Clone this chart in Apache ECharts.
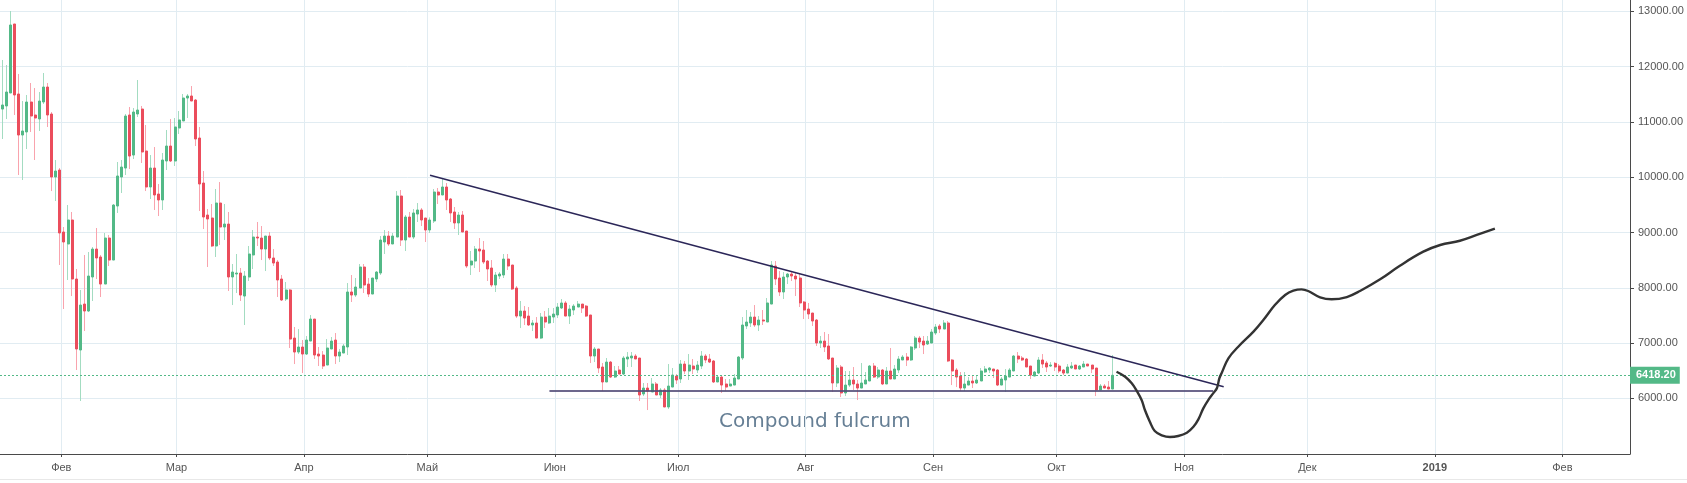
<!DOCTYPE html>
<html>
<head>
<meta charset="utf-8">
<title>Compound fulcrum</title>
<script src="https://cdn.jsdelivr.net/npm/echarts@6/dist/echarts.min.js"></script>
<style>
html,body{margin:0;padding:0;background:#fff;overflow:hidden;}
#main_chart{width:1687px;height:483px;}
</style>
</head>
<body>
<div id="main_chart"></div>
<script>
// daily candles, first one is 14 days before the Feb tick
var firstDay = -14;
var opens = [11233,11288,11523,12771,11505,10763,10818,11360,11125,11053,
11360,11631,11143,10004,10130,9009,8792,9226,8159,6875,
7706,7580,8195,8701,8557,8068,8900,8502,9479,10004,
10166,11125,10401,11143,11233,10474,9823,10166,9696,9588,
10293,10564,10293,10890,11017,11432,11469,11396,10709,9895,
9316,9262,8756,9533,9099,9153,8195,8249,8267,7851,
8195,8593,8918,8900,8701,8936,8539,8466,8159,7797,
7960,7091,6838,6929,6802,7037,7435,6802,6784,6603,
6893,7055,6766,6820,6929,7924,7869,7996,8376,8068,
7887,8159,8267,8828,8936,8792,8918,9660,8864,9280,
8918,9334,9407,9262,9045,9208,9732,9678,9823,9606,
9371,9172,9316,9027,8412,8484,8701,8683,8484,8358,
8050,8213,8231,8520,8412,7996,7489,7580,7489,7327,
7363,7091,7471,7363,7471,7508,7634,7725,7489,7598,
7652,7706,7670,7508,6766,6893,6567,6296,6657,6386,
6513,6440,6712,6730,6766,6730,6079,6187,6115,6260,
6061,6151,5844,6205,6404,6350,6621,6495,6585,6513,
6585,6766,6712,6676,6296,6386,6260,6223,6241,6350,
6730,7309,7363,7471,7327,7417,7381,7706,8394,8177,
7924,8195,8249,8213,8177,7743,7616,7544,7417,7001,
7037,6947,6730,6278,6567,6097,6241,6332,6260,6187,
6260,6314,6585,6386,6513,6260,6495,6350,6513,6694,
6748,6694,6911,7091,7037,6983,7001,7182,7309,7254,
7363,6694,6513,6404,6187,6241,6314,6278,6314,6477,
6513,6531,6513,6241,6332,6386,6495,6766,6730,6712,
6585,6404,6458,6694,6639,6585,6633,6585,6513,6458,
6549,6603,6531,6567,6621,6603,6549,6151,6223,6205,
6169];
var closes = [11306,11541,12753,11487,10763,10836,11360,11107,11071,11378,
11631,11125,10004,10112,8991,8828,9226,8159,6893,7688,
7580,8213,8701,8539,8068,8900,8502,9497,10022,10184,
11107,10383,11179,11215,10456,9823,10166,9678,9588,10311,
10564,10293,10908,11035,11432,11469,11378,10691,9877,9280,
9244,8756,9533,9099,9153,8195,8285,8267,7869,8213,
8611,8918,8900,8701,8936,8539,8448,8141,7779,7960,
7073,6838,6929,6802,7055,7435,6784,6766,6585,6911,
7037,6766,6838,6947,7924,7869,8014,8376,8050,7887,
8177,8285,8864,8936,8792,8936,9660,8864,9280,8918,
9353,9407,9226,9045,9226,9732,9678,9823,9588,9353,
9172,9316,9009,8394,8484,8701,8665,8466,8340,8050,
8231,8249,8520,8394,7978,7489,7580,7453,7327,7363,
7091,7471,7381,7489,7526,7652,7725,7489,7616,7670,
7706,7634,7489,6766,6893,6549,6296,6657,6386,6495,
6440,6730,6748,6766,6712,6061,6187,6133,6260,6061,
6151,5844,6223,6422,6332,6621,6495,6603,6531,6603,
6766,6694,6657,6296,6386,6241,6205,6260,6368,6748,
7327,7381,7471,7327,7417,7399,7725,8412,8159,7924,
8195,8249,8213,8159,7725,7598,7526,7399,7001,7037,
6929,6712,6278,6549,6097,6241,6332,6260,6187,6278,
6332,6585,6386,6513,6260,6495,6350,6531,6712,6748,
6694,6929,7091,7019,6965,7037,7200,7291,7254,7363,
6676,6495,6386,6187,6260,6314,6278,6332,6495,6531,
6549,6495,6241,6350,6404,6513,6766,6712,6694,6567,
6422,6477,6694,6621,6567,6603,6567,6495,6458,6567,
6585,6531,6585,6621,6585,6531,6151,6223,6187,6169,
6418.2];
var lows = [10691,11053,11523,11125,10040,9949,10510,10818,10311,10836,
11324,10908,9750,9569,8412,7616,8141,7851,6513,5952,
7218,7562,7761,8159,7833,8068,8394,8502,9353,9714,
10040,10148,10329,11089,10257,9750,9606,9407,9298,9407,
10130,10275,10203,10781,11017,11071,11378,10564,9389,9063,
8376,8737,8557,8774,8864,7942,7688,7906,7761,7327,
8123,8340,8756,8502,8303,8502,8394,7833,7761,7761,
6911,6621,6802,6458,6784,7037,6712,6585,6531,6603,
6893,6621,6657,6820,6784,7743,7833,7996,7906,7833,
7887,8105,8231,8611,8756,8792,8918,8756,8665,8918,
8882,9190,9117,8828,8991,9172,9515,9678,9407,9190,
9063,8955,9009,8358,8231,8358,8285,8430,8123,8014,
7924,8159,8177,8322,7960,7453,7272,7327,7309,7218,
7091,7073,7272,7345,7363,7453,7616,7489,7345,7508,
7652,7544,7471,6639,6657,6458,6133,6296,6368,6368,
6440,6422,6567,6567,6712,5952,6042,5789,6115,6061,
6006,5844,5807,6205,6260,6278,6440,6332,6440,6458,
6531,6639,6639,6278,6296,6097,6133,6223,6241,6350,
6694,7254,7291,7291,7218,7327,7381,7706,8050,7851,
7797,8068,8123,7851,7652,7435,7435,7309,6947,6911,
6838,6694,6115,6205,6024,6042,6205,6151,5970,6187,
6260,6314,6368,6350,6241,6260,6350,6350,6458,6694,
6585,6676,6875,6911,6802,6965,7001,7146,7182,7254,
6657,6241,6205,6133,6133,6241,6187,6260,6314,6458,
6458,6368,6223,6241,6115,6386,6495,6639,6676,6567,
6350,6404,6440,6549,6477,6567,6494,6458,6422,6458,
6531,6531,6513,6567,6585,6458,6042,6151,6187,6169,
6169];
var highs = [12120,12029,13006,12771,11867,11378,11487,11704,11613,11541,
11885,11704,11179,10311,10166,9099,9497,9371,8340,7960,
8593,8647,8737,9081,8593,8991,8955,9515,10275,10311,
11143,11270,11252,11758,11288,10944,10401,10546,9877,10438,
10854,11053,11071,11197,11505,11505,11649,11414,10908,10112,
9425,9515,9787,9913,9515,9371,8430,8611,8358,8303,
8756,9045,9190,9117,8936,9009,8701,8502,8231,8105,
7978,7291,7254,7055,7128,7508,7435,6929,6856,7073,
7110,7182,6893,6983,8086,8231,8177,8430,8430,8177,
8177,8303,8936,9045,9027,8991,9750,9768,9316,9371,
9425,9533,9443,9262,9274,9787,9805,9967,9895,9624,
9461,9371,9389,9027,8665,8756,8900,8846,8502,8502,
8285,8285,8611,8611,8412,8032,7761,7670,7652,7417,
7471,7544,7580,7634,7634,7725,7797,7761,7688,7706,
7761,7706,7688,7508,6929,6893,6639,6730,6676,6585,
6585,6766,6838,6838,6802,6730,6278,6278,6368,6296,
6187,6187,6621,6549,6440,6694,6676,6802,6712,6676,
6856,6802,6802,6694,6404,6422,6350,6350,6440,6766,
7471,7598,7562,7688,7489,7598,7815,8484,8484,8303,
8285,8267,8285,8285,8249,7761,7725,7544,7435,7128,
7200,7164,6730,6603,6603,6495,6495,6567,6332,6639,
6477,6603,6639,6567,6531,6567,6911,6603,6766,6784,
6820,6947,7128,7128,7128,7128,7254,7345,7345,7417,
7399,6712,6549,6477,6477,6386,6422,6404,6549,6585,
6567,6531,6531,6386,6531,6549,6784,6838,6766,6730,
6585,6495,6748,6802,6676,6657,6657,6621,6531,6621,
6657,6603,6603,6676,6621,6603,6549,6260,6260,6314,
6784];

// hand drawn lines, day number and price
var resistanceDays = [89.66,282.66];
var resistanceValues = [10034,6210];
var supportDays = [118.7,280.1];
var supportValues = [6133,6133];
var forecastDays = [256.6,258.7,260.3,261.5,262.7,263.5,264.7,265.9,267.6,269.6,
271.6,273.7,275.3,276.5,277.7,278.9,280.1,281,281.6,282.2,
283.8,286.2,289.9,292.3,295.1,297.6,299.6,301.6,303.2,306.1,
308.9,312.6,315.8,320.7,325.5,331.2,335.3,340.1,344.2,348.6];
var forecastValues = [6482,6392,6272,6138,5970,5789,5578,5410,5332,5301,
5319,5379,5487,5621,5820,5970,6091,6182,6363,6464,
6724,6934,7206,7417,7688,7869,7947,7972,7942,7828,
7792,7833,7942,8153,8399,8653,8774,8851,8955,9069];

// axes
var monthDays = [0,28,59,89,120,150,181,212,242,273,303,334,365];
var monthLabels = ['Фев','Мар','Апр','Май','Июн','Июл','Авг','Сен','Окт','Ноя','Дек','2019','Фев'];
var priceTicks = [6000,7000,8000,9000,10000,11000,12000,13000];
var lastPrice = 6418.2;

var upColor = '#53b987', downColor = '#eb4d5c';
var upWick = '#a3dcc1', downWick = '#f9a3ad';
var candleShift = -0.35;

function zip2(a,b){
	var out = [];
	for(var i=0;i<a.length;i++){ out.push([a[i],b[i]]); }
	return out;
}

var wickData = [], bodyData = [];
for(var i=0;i<opens.length;i++){
	var x = firstDay+i+candleShift;
	wickData.push([x,opens[i],closes[i],lows[i],highs[i]]);
	bodyData.push([x,opens[i],closes[i],Math.min(opens[i],closes[i]),Math.max(opens[i],closes[i])]);
}

var myChart = echarts.init(document.getElementById('main_chart'),null,{renderer:'canvas'});
var fontName = '"Liberation Sans", Arial, sans-serif';
var option = {
	animation: false,
	backgroundColor: '#fff',
	grid: {left:0,right:57,top:0,bottom:29,containLabel:false},
	xAxis: {
		type: 'value',
		min: -14.907,
		max: 381.46,
		axisLine: {show:true,onZero:false,lineStyle:{color:'#4a4a4a',width:1}},
		axisTick: {show:true,length:3,customValues:monthDays,lineStyle:{color:'#4a4a4a'}},
		splitLine: {show:true,lineStyle:{color:'#e1ecf2',width:1}},
		axisLabel: {
			customValues: monthDays,
			margin: 8,
			color: '#555',
			fontFamily: fontName,
			fontSize: 11,
			formatter: function(v){
				var t = monthLabels[monthDays.indexOf(v)];
				return t==='2019' ? '{b|'+t+'}' : t;
			},
			rich: {b:{fontWeight:'bold',color:'#555',fontFamily:fontName,fontSize:11}}
		}
	},
	yAxis: {
		type: 'value',
		position: 'right',
		min: 4994,
		max: 13205,
		axisLine: {show:true,onZero:false,lineStyle:{color:'#4a4a4a',width:1}},
		axisTick: {show:true,length:4,customValues:priceTicks,lineStyle:{color:'#4a4a4a'}},
		splitLine: {show:true,lineStyle:{color:'#e1ecf2',width:1}},
		axisLabel: {
			customValues: priceTicks,
			margin: 8,
			color: '#555',
			fontFamily: fontName,
			fontSize: 11,
			formatter: function(v){ return v.toFixed(2); }
		}
	},
	series: [
		{
			type: 'candlestick',
			data: wickData,
			barWidth: 1,
			silent: true,
			itemStyle: {color:upWick,color0:downWick,borderColor:upWick,borderColor0:downWick,borderWidth:1}
		},
		{
			type: 'candlestick',
			data: bodyData,
			barWidth: 2.5, // 2.5 plus the 1px border always lands on 3px bodies
			silent: true,
			itemStyle: {color:upColor,color0:downColor,borderColor:upColor,borderColor0:downColor,borderWidth:1},
			markLine: {
				silent: true,
				symbol: 'none',
				animation: false,
				lineStyle: {color:upColor,type:[2,2],width:1},
				label: {
					position: 'end',
					distance: 0,
					formatter: lastPrice.toFixed(2),
					backgroundColor: upColor,
					color: '#fff',
					fontWeight: 'bold',
					fontFamily: fontName,
					fontSize: 11,
					padding: [3,4,3,6]
				},
				data: [{yAxis:lastPrice}]
			}
		},
		{
			type: 'line',
			data: zip2(supportDays,supportValues),
			symbol: 'none',
			silent: true,
			z: 5,
			lineStyle: {color:'#524c78',width:2,opacity:0.85}
		},
		{
			type: 'line',
			data: zip2(resistanceDays,resistanceValues),
			symbol: 'none',
			silent: true,
			z: 5,
			lineStyle: {color:'#2b2658',width:1.5}
		},
		{
			type: 'line',
			data: zip2(forecastDays,forecastValues),
			symbol: 'none',
			smooth: 0.4,
			silent: true,
			z: 6,
			lineStyle: {color:'#333',width:2.4}
		}
	],
	graphic: [
		{
			type: 'text',
			left: 719,
			top: 412,
			silent: true,
			style: {text:'Compound fulcrum',fill:'#667f95',font:'20px "DejaVu Sans", sans-serif'}
		},
		{
			type: 'rect',
			silent: true,
			shape: {x:0,y:479,width:1687,height:1},
			style: {fill:'#e8e8e8'}
		}
	]
};
myChart.setOption(option);
</script>
</body>
</html>
